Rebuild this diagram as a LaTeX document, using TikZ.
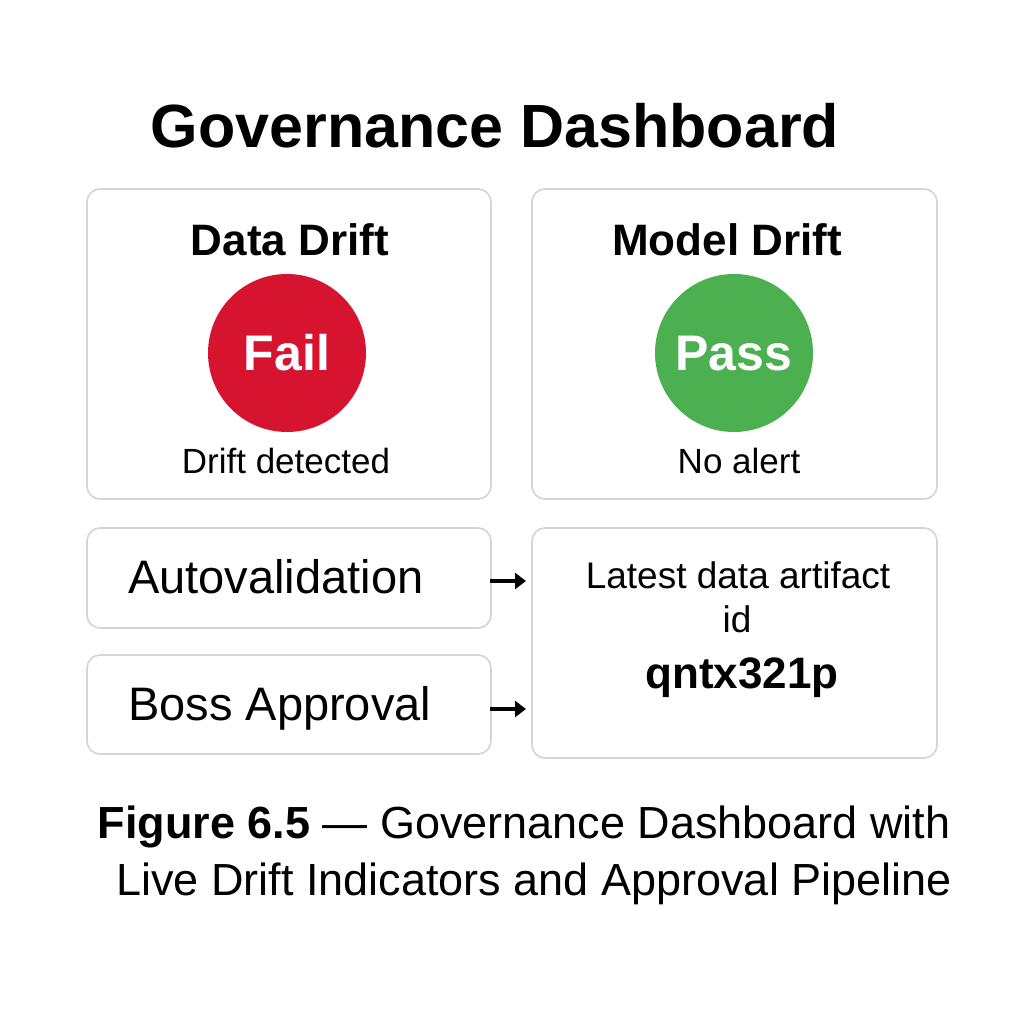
\documentclass[tikz,border=0pt]{standalone}
\usepackage{fontspec}
\setmainfont{Liberation Sans}
\usetikzlibrary{arrows.meta}
\definecolor{failred}{RGB}{215,20,48}
\definecolor{passgreen}{RGB}{76,175,80}
\definecolor{boxgray}{RGB}{212,212,212}
\tikzset{
  panel/.style={draw=boxgray, line width=1.6pt, rounded corners=13pt},
  lamp/.style={circle, minimum size=158pt, inner sep=0pt},
  txt/.style={anchor=base, inner sep=0pt},
  arr/.style={-{Triangle[length=11pt,width=16pt]}, line width=3.5pt, black},
}
\begin{document}
\begin{tikzpicture}[x=1pt,y=-1pt]
\useasboundingbox (0,0) rectangle (1024,1024);
\fill[white] (0,0) rectangle (1024,1024);
% panels
\draw[panel] (87,189) rectangle (491,499);
\draw[panel] (532,189) rectangle (937,499);
\draw[panel] (87,528) rectangle (491,628);
\draw[panel] (87,655) rectangle (491,754);
\draw[panel] (532,528) rectangle (937,758);
% title
\node[txt] (title) at (495,148) {\fontsize{61}{70}\selectfont\bfseries Governance Dashboard};
% data drift
\node[txt] (dd) at (290,255) {\fontsize{44}{50}\selectfont\bfseries Data Drift};
\node[lamp, fill=failred] (fail) at (287,353) {};
\node[txt, text=white] (failt) at (287,370) {\fontsize{50}{56}\selectfont\bfseries Fail};
\node[txt] (ddt) at (286,473) {\fontsize{35}{40}\selectfont Drift detected};
% model drift
\node[txt] (md) at (727,255) {\fontsize{44}{50}\selectfont\bfseries Model Drift};
\node[lamp, fill=passgreen] (pass) at (734,353) {};
\node[txt, text=white] (passt) at (734,370) {\fontsize{50}{56}\selectfont\bfseries Pass};
\node[txt] (mdt) at (739,473) {\fontsize{35}{40}\selectfont No alert};
% pipeline
\node[txt, anchor=base west] (auto) at (128,593) {\fontsize{47}{52}\selectfont Autovalidation};
\node[txt, anchor=base west] (boss) at (128,720) {\fontsize{47}{52}\selectfont Boss Approval};
\node[txt] (lat1) at (738,588) {\fontsize{37}{42}\selectfont Latest data artifact};
\node[txt] (lat2) at (737,632) {\fontsize{37}{42}\selectfont id};
\node[txt] (art) at (742,688) {\fontsize{44}{50}\selectfont\bfseries qntx321p};
\coordinate (a1s) at (490,581);
\coordinate (a1e) at (526,581);
\coordinate (a2s) at (490,709);
\coordinate (a2e) at (526,709);
\draw[arr] (a1s) -- (a1e);
\draw[arr] (a2s) -- (a2e);
% caption
\node[txt] (cap1) at (524,838) {\fontsize{45}{52}\selectfont\textbf{Figure 6.5} — Governance Dashboard with};
\node[txt] (cap2) at (534,895) {\fontsize{45}{52}\selectfont Live Drift Indicators and Approval Pipeline};
\end{tikzpicture}
\end{document}
